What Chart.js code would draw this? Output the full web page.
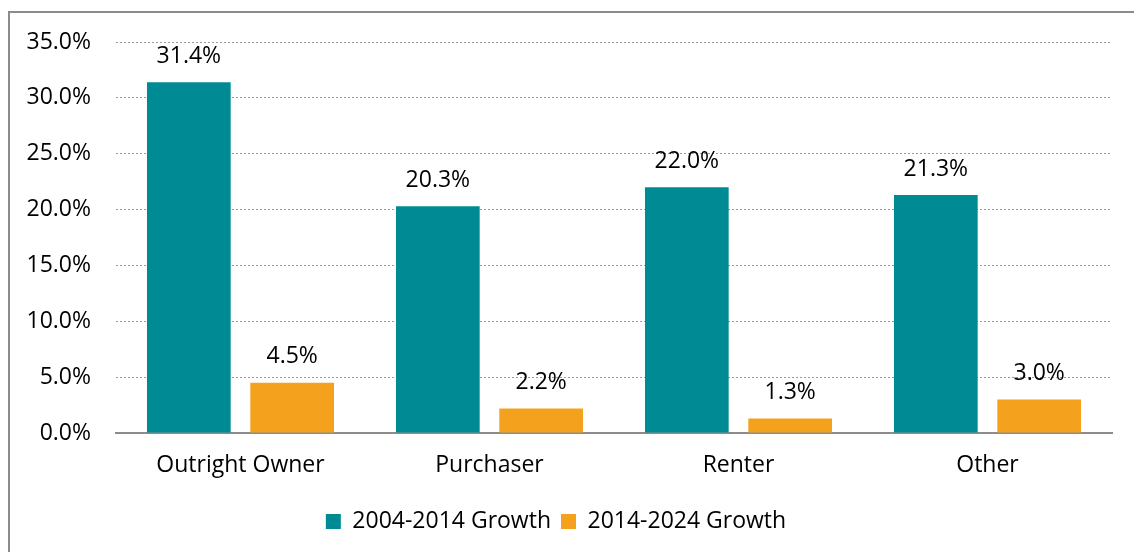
<!DOCTYPE html>
<html lang="en">
<head>
    <meta charset="UTF-8">
    <title>Growth by tenure</title>
    <script src="https://cdn.jsdelivr.net/npm/chart.js"></script>
    <style>
        body { margin: 0; background: #fff; }
        #wrap { position: relative; width: 1134px; height: 552px; overflow: hidden; }
        #frame { position: absolute; left: 8px; top: 11px; width: 1200px; height: 600px; border: 2px solid #8c8c8c; box-sizing: border-box; }
        #growthChart { position: absolute; left: 0; top: 0; }
    </style>
</head>
<body>
    <div id="wrap">
        <div id="frame"></div>
        <canvas id="growthChart" width="1134" height="552"></canvas>
    </div>
    <script>
        const categories = ['Outright Owner', 'Purchaser', 'Renter', 'Other'];
        const growth2004 = [31.4, 20.3, 22.0, 21.3];
        const growth2014 = [4.5, 2.2, 1.3, 3.0];
        const seriesNames = ['2004-2014 Growth', '2014-2024 Growth'];
        const yTicks = [0, 5, 10, 15, 20, 25, 30, 35];

        const fontFamily = "'Open Sans', 'Noto Sans', sans-serif";
        const fontSize = 23;

        // labels above each bar
        const valueLabels = {
            id: 'valueLabels',
            afterDatasetsDraw(chart) {
                const ctx = chart.ctx;
                ctx.save();
                ctx.font = fontSize + 'px ' + fontFamily;
                ctx.fillStyle = '#000';
                ctx.textAlign = 'center';
                ctx.textBaseline = 'middle';
                chart.data.datasets.forEach((ds, i) => {
                    chart.getDatasetMeta(i).data.forEach((bar, j) => {
                        ctx.fillText(ds.data[j].toFixed(1) + '%', bar.x, bar.y - 26);
                    });
                });
                ctx.restore();
            }
        };

        new Chart(document.getElementById('growthChart'), {
            type: 'bar',
            data: {
                labels: categories,
                datasets: [
                    { label: seriesNames[0], data: growth2004, backgroundColor: '#008b94' },
                    { label: seriesNames[1], data: growth2014, backgroundColor: '#f4a11e' }
                ]
            },
            options: {
                responsive: false,
                animation: false,
                categoryPercentage: 0.83,
                barPercentage: 0.81,
                layout: { padding: { left: 0, right: 22, top: 42, bottom: 9 } },
                plugins: {
                    legend: {
                        position: 'bottom',
                        labels: {
                            font: { size: fontSize, family: fontFamily },
                            color: '#000',
                            boxWidth: 15,
                            boxHeight: 15,
                            padding: 10
                        }
                    },
                    tooltip: { enabled: false }
                },
                scales: {
                    x: {
                        grid: { display: false, drawTicks: false },
                        border: { display: true, color: '#8c8c8c', width: 2 },
                        ticks: { font: { size: fontSize, family: fontFamily }, color: '#000', padding: 19 },
                        afterFit: (scale) => { scale.height = 67; }
                    },
                    y: {
                        min: 0,
                        max: 35,
                        afterBuildTicks: (scale) => { scale.ticks = yTicks.map(v => ({ value: v })); },
                        grid: {
                            drawTicks: false,
                            color: (c) => c.tick && c.tick.value === 0 ? 'rgba(0,0,0,0)' : '#9a9a9a',
                            lineWidth: 1
                        },
                        border: { display: false, dash: [2, 2] },
                        ticks: {
                            font: { size: fontSize, family: fontFamily },
                            color: '#000',
                            padding: 25,
                            callback: (v) => v.toFixed(1) + '%'
                        },
                        afterFit: (scale) => { scale.width = 116; }
                    }
                }
            },
            plugins: [valueLabels]
        });
    </script>
</body>
</html>
